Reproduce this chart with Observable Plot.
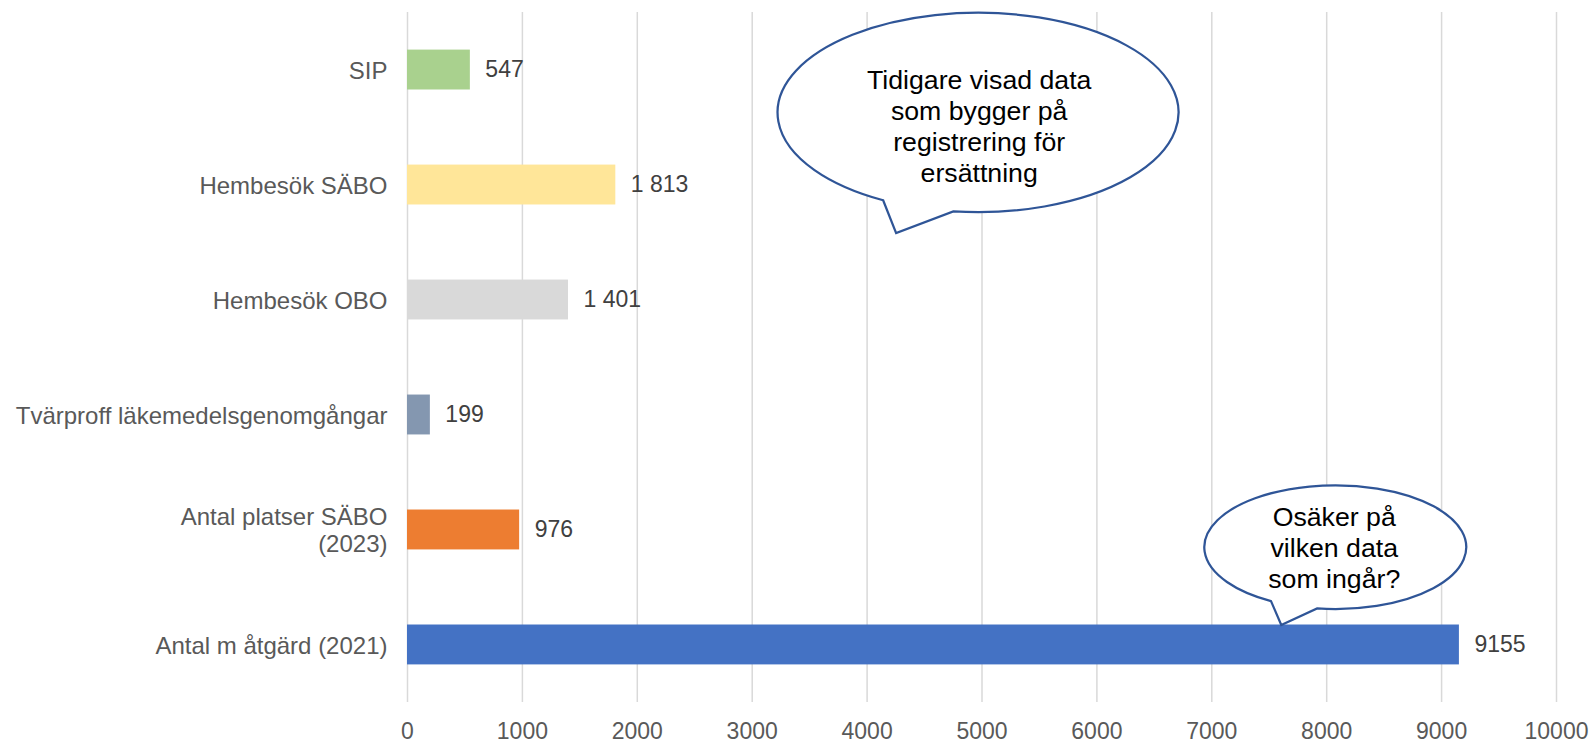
<!DOCTYPE html>
<html>
<head>
<meta charset="utf-8">
<script src="https://cdn.jsdelivr.net/npm/d3@7"></script>
<script src="https://cdn.jsdelivr.net/npm/@observablehq/plot@0.6"></script>
<style>
  html, body { margin: 0; padding: 0; background: #fff; }
  #chart { width: 1593px; height: 744px; overflow: hidden; }
</style>
</head>
<body>
<div id="chart"></div>
<script>
// ---- Data ----
const categories = [
  "SIP",
  "Hembesök SÄBO",
  "Hembesök OBO",
  "Tvärproff läkemedelsgenomgångar",
  "Antal platser SÄBO\n(2023)",
  "Antal m åtgärd (2021)"
];
const values = [547, 1813, 1401, 199, 976, 9155];
const valueLabels = ["547", "1 813", "1 401", "199", "976", "9155"];
const barColors = ["#a9d18e", "#ffe699", "#d9d9d9", "#8497b0", "#ed7d31", "#4472c4"];
const xTicks = [0, 1000, 2000, 3000, 4000, 5000, 6000, 7000, 8000, 9000, 10000];

// ---- Callout annotations (x in data units, y in category steps from the first bar) ----
const calloutLines = [
  ["Tidigare visad data", "som bygger på", "registrering för", "ersättning"],
  ["Osäker på", "vilken data", "som ingår?"]
];
const calloutCenters = [[4970, 0.373], [8079, 4.154]];
const calloutRadii = [[1745, 0.867], [1140, 0.538]];
const calloutTextCenters = [[4980, 0.49], [8070, 4.154]];
const calloutTails = [
  [[4135, 1.145], [4257, 1.422], [4753, 1.240]],
  [[7530, 4.614], [7609, 4.831], [7922, 4.683]]
];

const rows = categories.map((c, i) => ({cat: c, value: values[i], label: valueLabels[i], color: barColors[i]}));

function calloutMark(index, scales) {
  const x = scales.x, y = scales.y;
  const y0 = y(categories[0]);
  const step = y(categories[1]) - y0;
  const bw = typeof y.bandwidth === "function" ? y.bandwidth() : step * 0.347;
  const py = v => y0 + bw / 2 + v * step;
  const x0 = x(0);
  const g = d3.create("svg:g");
  calloutLines.forEach((lines, k) => {
    const cx = x(calloutCenters[k][0]);
    const cy = py(calloutCenters[k][1]);
    const rx = x(calloutRadii[k][0]) - x0;
    const ry = calloutRadii[k][1] * step;
    const pts = calloutTails[k].map(([a, b]) => [x(a), py(b)]);
    const proj = p => {
      const t = Math.atan2((p[1] - cy) / ry, (p[0] - cx) / rx);
      return {t, pt: [cx + rx * Math.cos(t), cy + ry * Math.sin(t)]};
    };
    let a = proj(pts[0]), b = proj(pts[2]);
    if (a.t < b.t) { const tmp = a; a = b; b = tmp; }
    const path = `M${b.pt[0]},${b.pt[1]} A${rx},${ry} 0 1 0 ${a.pt[0]},${a.pt[1]} L${pts[1][0]},${pts[1][1]} Z`;
    g.append("path")
      .attr("d", path)
      .attr("fill", "#fff")
      .attr("stroke", "#2f5597")
      .attr("stroke-width", 2.25)
      .attr("stroke-linejoin", "miter");
    const tx = x(calloutTextCenters[k][0]);
    const ty = py(calloutTextCenters[k][1]);
    const lh = 31;
    const n = lines.length;
    lines.forEach((line, i) => {
      g.append("text")
        .attr("x", tx)
        .attr("y", ty + (i - (n - 1) / 2) * lh)
        .attr("dy", "0.35em")
        .attr("text-anchor", "middle")
        .attr("font-size", 26.7)
        .attr("font-family", "'Liberation Sans', Arial, sans-serif")
        .attr("fill", "#000")
        .text(line);
    });
  });
  return g.node();
}

const chart = Plot.plot({
  width: 1593,
  height: 744,
  marginLeft: 407,
  marginRight: 37,
  marginTop: 12,
  marginBottom: 42,
  style: {fontFamily: "'Liberation Sans', Arial, sans-serif", fontSize: "23px", color: "#595959", background: "#fff", overflow: "visible"},
  x: {domain: [0, 10000]},
  y: {domain: categories, paddingInner: 0.653, paddingOuter: 0.327, round: false},
  marks: [
    Plot.ruleX(xTicks, {stroke: "#d9d9d9", strokeWidth: 1.5}),
    Plot.barX(rows, {x: "value", y: "cat", fill: "color"}),
    Plot.text(rows, {x: "value", y: "cat", text: "label", dx: 15, textAnchor: "start", fill: "#404040", fontSize: 23}),
    Plot.axisX({ticks: xTicks, tickSize: 0, tickPadding: 20, label: null, tickFormat: d => String(d), fontSize: 23}),
    Plot.axisY({tickSize: 0, tickPadding: 20, label: null, lineHeight: 1.12, fontSize: 24}),
    calloutMark
  ]
});
document.getElementById("chart").appendChild(chart);
</script>
</body>
</html>
